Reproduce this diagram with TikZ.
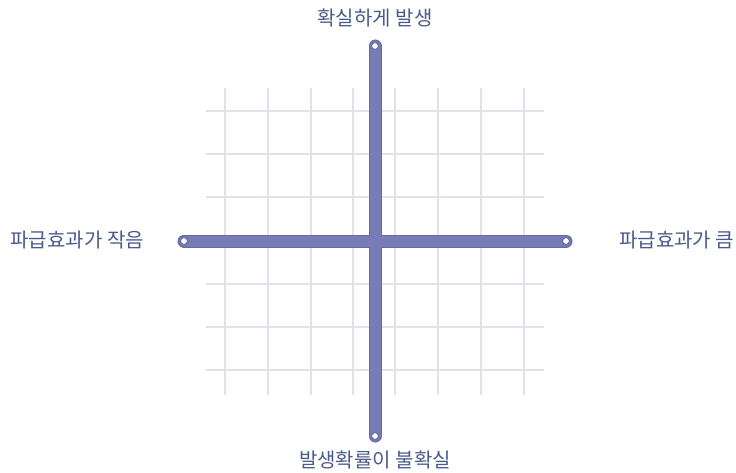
\documentclass[tikz,border=0pt]{standalone}
\usepackage{fontspec}
\newfontfamily\kr{Noto Sans CJK KR}
\definecolor{barfill}{HTML}{777BB6}
\definecolor{baredge}{HTML}{666AA2}
\definecolor{gridc}{HTML}{E2E2EA}
\definecolor{txt}{HTML}{4A5A8C}
\begin{document}
\begin{tikzpicture}[x=1pt,y=-1pt,
  lbl/.style={font=\kr\fontsize{20}{22}\selectfont, text=txt, inner sep=0pt},
  gridline/.style={draw=gridc, line width=1.3pt},
  hole/.style={circle, fill=white, draw=baredge, line width=1pt, minimum size=7pt, inner sep=0pt}]
\useasboundingbox (0,0) rectangle (736,473);
% grid
\foreach \x in {225,268,311,353,395,438,481,524}
  \draw[gridline] (\x,88) -- (\x,395);
\foreach \y in {111,154,197,284,327,370}
  \draw[gridline] (206,\y) -- (544,\y);
% bar end points
\coordinate (L) at (184,241);
\coordinate (R) at (566,241);
\coordinate (T) at (375,46);
\coordinate (B) at (375,436);
% bars
\draw[baredge, line width=13pt, line cap=round] (L) -- (R);
\draw[baredge, line width=13pt, line cap=round] (T) -- (B);
\draw[barfill, line width=11pt, line cap=round] (L) -- (R);
\draw[barfill, line width=11pt, line cap=round] (T) -- (B);
\node[hole] (hl) at (L) {};
\node[hole] (hr) at (R) {};
\node[hole] (ht) at (T) {};
\node[hole] (hb) at (B) {};
% labels
\node[lbl] (top) at (375,18) {확실하게 발생};
\node[lbl] (bot) at (375,460) {발생확률이 불확실};
\node[lbl, anchor=east] (left) at (144,240) {파급효과가 작음};
\node[lbl, anchor=west] (right) at (619,240) {파급효과가 큼};
\end{tikzpicture}
\end{document}
